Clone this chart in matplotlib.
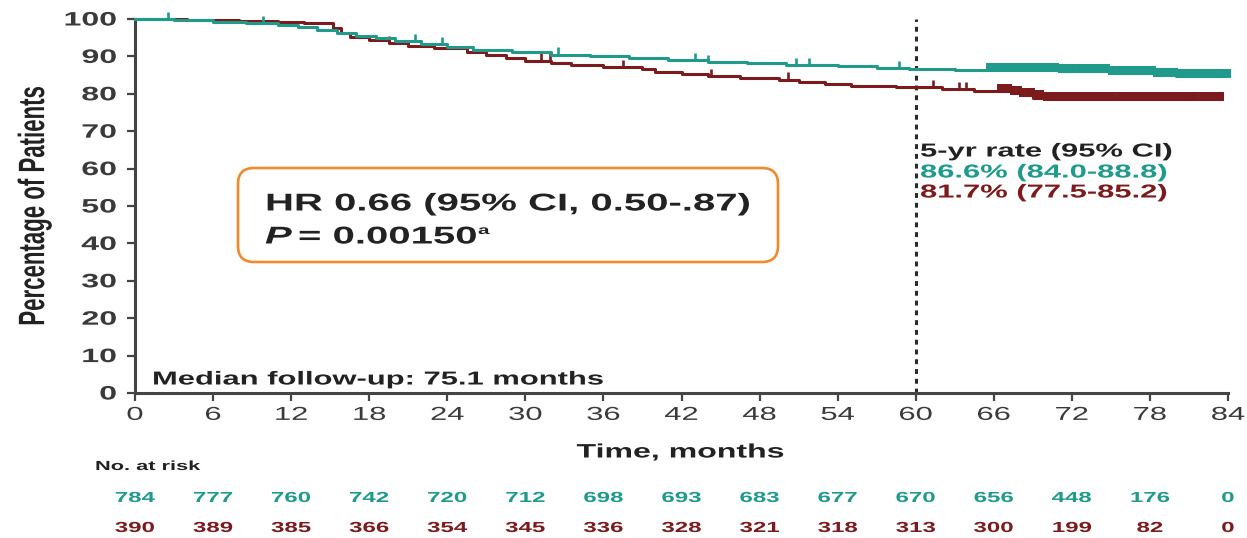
import numpy as np
import matplotlib
matplotlib.use('Agg')
import matplotlib.pyplot as plt
from matplotlib import patheffects
from matplotlib.transforms import Affine2D, IdentityTransform, blended_transform_factory
from matplotlib.patches import FancyBboxPatch

# survival curves (months, % event free)
teal_t = [0, 3, 6, 8.5, 11, 12.5, 14, 15.5, 17, 18.5, 20, 22, 24, 26, 29, 32, 35, 38,
          41, 44, 47, 50, 54, 57, 59.5, 63, 66, 71, 75, 78.5, 80]
teal_s = [100, 99.6, 99.2, 98.8, 98.3, 97.8, 97.0, 96.2, 95.5, 94.8, 94.0, 93.2, 92.4,
          91.7, 91.1, 90.5, 90.0, 89.6, 89.0, 88.6, 88.2, 87.8, 87.4, 87.0, 86.6, 86.4,
          86.3, 86.0, 85.6, 84.9, 84.7]
teal_end = 84.0
red_t = [0, 4, 8, 11, 13, 15.2, 15.8, 16.5, 18, 19.5, 21, 23, 25.5, 27, 28.5, 30, 32,
         33.5, 36, 39, 40, 42, 44, 46.5, 49.5, 51, 53, 55, 58.5, 59.6, 62, 64.5, 67.5,
         68.0, 69.0, 70.0]
red_s = [100, 99.7, 99.4, 99.2, 98.8, 97.5, 96.3, 95.2, 94.3, 93.5, 92.9, 92.3, 91.2,
         90.3, 89.6, 88.9, 88.3, 87.7, 87.1, 86.7, 85.9, 85.2, 84.7, 84.3, 83.8, 83.1,
         82.6, 82.1, 81.9, 81.7, 81.2, 80.8, 80.2, 79.6, 79.0, 78.6]
red_end = 83.5

# censored observations
teal_cens = [2.5, 9.8, 21.5, 23.6, 32.5, 43.0, 44.0, 50.8, 51.8, 58.7,
             65.6, 65.9, 66.3, 66.6, 67.0, 67.3, 67.7, 68.0, 68.4, 68.7, 69.1, 69.4,
             69.8, 70.1, 70.5, 70.8, 71.2, 71.5, 71.9, 72.2, 72.6, 72.9, 73.3, 73.6,
             74.0, 74.3, 74.7, 75.0, 75.4, 75.7, 76.1, 76.4, 76.8, 77.1, 77.5, 77.8,
             78.2, 78.5, 78.9, 79.2, 79.6, 79.9, 80.3, 80.6, 81.0, 81.3, 81.7, 82.0,
             82.4, 82.7, 83.1, 83.4, 83.8, 84.0]
red_cens = [19.5, 31.2, 31.9, 37.5, 44.3, 50.2, 61.3, 63.3, 63.9,
            66.5, 66.8, 67.2, 67.5, 67.9, 68.2, 68.6, 68.9, 69.3, 69.6, 70.0, 70.3,
            70.7, 71.0, 71.4, 71.7, 72.1, 72.4, 72.8, 73.1, 73.5, 73.8, 74.2, 74.5,
            74.9, 75.2, 75.6, 75.9, 76.3, 76.6, 77.0, 77.3, 77.7, 78.0, 78.4, 78.7,
            79.1, 79.4, 79.8, 80.1, 80.5, 80.8, 81.2, 81.5, 81.9, 82.2, 82.6, 82.9,
            83.3, 83.5]

# numbers at risk
risk_t = [0, 6, 12, 18, 24, 30, 36, 42, 48, 54, 60, 66, 72, 78, 84]
teal_risk = [784, 777, 760, 742, 720, 712, 698, 693, 683, 677, 670, 656, 448, 176, 0]
red_risk = [390, 389, 385, 366, 354, 345, 336, 328, 321, 318, 313, 300, 199, 82, 0]

TEAL = '#1f9a8b'
RED = '#7b1b1d'
GREY = '#3a3a3a'
SX = 1.65  # horizontal stretch of the lettering

W, H = 1247, 538


class HStretch(patheffects.AbstractPathEffect):
    """draw text widened horizontally about its anchor point"""
    def __init__(self, text, sx):
        super().__init__()
        self.text = text
        self.sx = sx

    def draw_path(self, renderer, gc, tpath, affine, rgbFace=None):
        x0, _ = self.text.get_transform().transform(self.text.get_position())
        st = Affine2D().translate(-x0, 0).scale(self.sx, 1).translate(x0, 0)
        renderer.draw_path(gc, tpath, affine + st, rgbFace)


def wide(t, sx=SX):
    t.set_path_effects([HStretch(t, sx)])
    return t


def fx(px):
    return px / W


def fy(py):
    return 1 - py / H


plt.rcParams['font.family'] = ['Liberation Sans', 'DejaVu Sans']

fig = plt.figure(figsize=(W / 100, H / 100), dpi=100)
ax = fig.add_axes([fx(135), fy(393), (1228 - 135) / W, (393 - 19) / H])


def surv_at(times, surv, t):
    i = np.searchsorted(times, t, side='right') - 1
    return np.asarray(surv)[i]


for times, surv, end, cens, col in [(red_t, red_s, red_end, red_cens, RED),
                                    (teal_t, teal_s, teal_end, teal_cens, TEAL)]:
    ax.step(times + [end], surv + [surv[-1]], where='post', color=col, lw=2.2,
            clip_on=False, zorder=3)
    cens = np.asarray(cens)
    cv = surv_at(times, surv, cens)
    sparse = cens < 65
    ax.vlines(cens[sparse], cv[sparse], cv[sparse] + 1.9, color=col, lw=1.9,
              clip_on=False, zorder=3)
    # heavy censoring late in follow-up merges into a solid band
    ax.vlines(cens[~sparse], cv[~sparse] - 0.5, cv[~sparse] + 1.9, color=col, lw=4.3,
              clip_on=False, zorder=3)

ax.axvline(60, color='#2b2b2b', lw=2.2, ls=(0, (1.6, 1.6)), zorder=2)

ax.set_xlim(0, 84)
ax.set_ylim(0, 100)
ax.set_xticks(risk_t)
ax.set_yticks(range(0, 101, 10))
for s in ['top', 'right']:
    ax.spines[s].set_visible(False)
for s in ['left', 'bottom']:
    ax.spines[s].set_linewidth(2.2)
    ax.spines[s].set_color('#444444')
ax.tick_params(axis='both', length=6, width=1.6, color='#444444')
ax.tick_params(axis='y', pad=7, labelsize=14, labelcolor=GREY)
ax.tick_params(axis='x', pad=4, labelsize=13.5, labelcolor=GREY)
for lab in ax.get_yticklabels():
    lab.set_fontweight('bold')
    wide(lab)
for lab in ax.get_xticklabels():
    wide(lab)

wide(fig.text(fx(35), fy(206), 'Percentage of Patients', rotation=90, ha='center',
              va='center', fontsize=16, fontweight='bold', color='#222222'))
wide(fig.text(fx(681), fy(453), 'Time, months', ha='center', va='center',
              fontsize=14, fontweight='bold', color='#222222'))
wide(fig.text(fx(152), fy(380), 'Median follow-up: 75.1 months', ha='left', va='center',
              fontsize=13.5, fontweight='bold', color='#222222'))

# 5-year rates
wide(fig.text(fx(920), fy(152), '5-yr rate (95% CI)', ha='left', va='center',
              fontsize=13.5, fontweight='bold', color='#222222'))
wide(fig.text(fx(920), fy(173), '86.6% (84.0-88.8)', ha='left', va='center',
              fontsize=13.5, fontweight='bold', color=TEAL))
wide(fig.text(fx(920), fy(193), '81.7% (77.5-85.2)', ha='left', va='center',
              fontsize=13.5, fontweight='bold', color=RED))

# hazard ratio box
box = FancyBboxPatch((238, H - 262), 540, 94, boxstyle='round,pad=0,rounding_size=16',
                     transform=IdentityTransform(), facecolor='white',
                     edgecolor='#f08a2c', lw=1.9, zorder=4)
fig.add_artist(box)
wide(fig.text(fx(265), fy(204), 'HR 0.66 (95% CI, 0.50-.87)', ha='left', va='center',
              fontsize=17.5, fontweight='bold', color='#222222', zorder=5))
wide(fig.text(fx(265), fy(237), 'P', ha='left', va='center', fontsize=17.5,
              fontweight='bold', fontstyle='italic', color='#222222', zorder=5))
wide(fig.text(fx(298), fy(237), '= 0.00150', ha='left', va='center', fontsize=17.5,
              fontweight='bold', color='#222222', zorder=5))
wide(fig.text(fx(478), fy(231), 'a', ha='left', va='center', fontsize=9,
              fontweight='bold', color='#222222', zorder=5))

# numbers at risk table
tr = blended_transform_factory(ax.transData, fig.transFigure)
wide(fig.text(fx(95), fy(467), 'No. at risk', ha='left', va='center', fontsize=9.5,
              fontweight='bold', color='#222222'))
for t, a, b in zip(risk_t, teal_risk, red_risk):
    wide(ax.text(t, fy(498), str(a), transform=tr, ha='center', va='center',
                 fontsize=10.5, fontweight='bold', color=TEAL))
    wide(ax.text(t, fy(528), str(b), transform=tr, ha='center', va='center',
                 fontsize=10.5, fontweight='bold', color=RED))

fig.savefig('out.png', dpi=100)
